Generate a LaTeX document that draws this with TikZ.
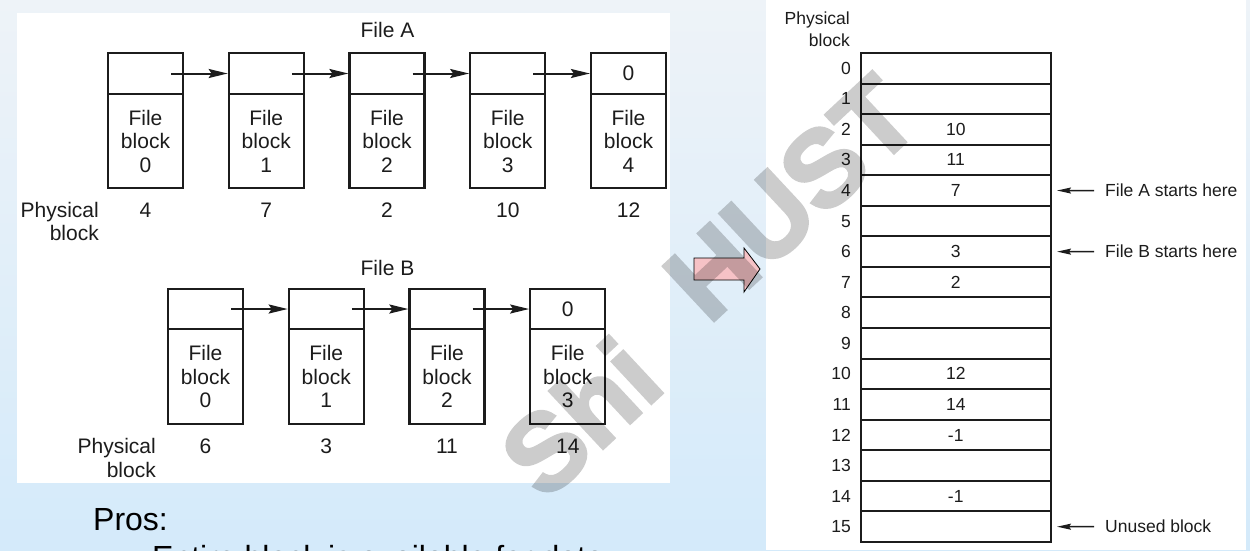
\documentclass[tikz,border=0pt]{standalone}
\usepackage{fontspec}
\setmainfont{Liberation Sans}
\newfontfamily\wmfont{Liberation Sans Bold}[FakeBold=3]
\usetikzlibrary{arrows.meta}
\definecolor{bgtop}{RGB}{238,243,248}
\definecolor{bgbot}{RGB}{212,234,250}
\definecolor{ink}{RGB}{28,28,28}
\definecolor{pinkarrow}{RGB}{246,194,198}
\begin{document}
\begin{tikzpicture}[x=1pt,y=-1pt,
  cellp/.style={draw=ink, line width=2.2pt, minimum width=75pt, inner sep=0pt,
                font=\fontsize{21}{23.5}\selectfont, text=ink},
  celld/.style={draw=ink, line width=2.2pt, minimum width=75pt, inner sep=0pt,
                align=center, font=\fontsize{21}{23.5}\selectfont, text=ink},
  lbl/.style={font=\fontsize{21}{23.5}\selectfont, text=ink, inner sep=0pt},
  rlbl/.style={font=\fontsize{17.5}{21}\selectfont, text=ink, inner sep=0pt},
  rowbox/.style={draw=ink, line width=2pt, minimum width=190.5pt, minimum height=30.56pt,
                 inner sep=0pt, font=\fontsize{17.5}{21}\selectfont, text=ink},
  ptrarrow/.style={draw=ink, line width=2pt, -{Stealth[length=19pt,width=9pt,inset=3pt]}},
  notearrow/.style={draw=ink, line width=1.5pt, -{Stealth[length=14pt,width=6pt,inset=2pt]}},
  wm/.style={font=\wmfont\fontsize{108}{108}\selectfont, text=black, inner sep=0pt}
]
\useasboundingbox (0,0) rectangle (1250,550);
% background
\shade[top color=bgtop, bottom color=bgbot] (0,0) rectangle (1250,550);
\fill[white] (17,13) rectangle (670,483);
\fill[white] (766,0) rectangle (1246,550);

% ---------- File A ----------
\node[lbl, anchor=base] (titleA) at (387.5,37) {File A};
\foreach \i/\p in {0/4,1/7,2/2,3/10,4/12}{
  \pgfmathsetmacro{\cx}{145.5+120.75*\i}
  \node[cellp, minimum height=41pt] (ap\i) at (\cx,73.5) {};
  \node[celld, minimum height=94pt] (ad\i) at (\cx,141) {File\\block\\\i};
  \node[lbl, anchor=base] (an\i) at (\cx,217) {\p};
}
\node[lbl] at (ap4) {0};
\node[lbl, anchor=base east] (aphys) at (99,217) {Physical};
\node[lbl, anchor=base east] (ablk) at (99,240) {block};
\foreach \i/\j in {0/1,1/2,2/3,3/4}{
  \draw[ptrarrow] ([xshift=-13pt]ap\i.east) -- (ap\j.west);
}

% ---------- File B ----------
\node[lbl, anchor=base] (titleB) at (387.5,275) {File B};
\foreach \i/\p in {0/6,1/3,2/11,3/14}{
  \pgfmathsetmacro{\cx}{205.5+120.75*\i}
  \node[cellp, minimum height=40pt] (bp\i) at (\cx,309) {};
  \node[celld, minimum height=95pt] (bd\i) at (\cx,376.5) {File\\block\\\i};
  \node[lbl, anchor=base] (bn\i) at (\cx,453) {\p};
}
\node[lbl] at (bp3) {0};
\node[lbl, anchor=base east] (bphys) at (156,453) {Physical};
\node[lbl, anchor=base east] (bblk) at (156,477) {block};
\foreach \i/\j in {0/1,1/2,2/3}{
  \draw[ptrarrow] ([xshift=-13pt]bp\i.east) -- (bp\j.west);
}

% ---------- Pros text ----------
\node[anchor=base west, inner sep=0pt, font=\fontsize{32}{38}\selectfont] (pros) at (93,530) {Pros:};
\node[anchor=base west, inner sep=0pt, font=\fontsize{32}{38}\selectfont] (entire) at (152,568) {Entire block is available for data};

% ---------- pink block arrow ----------
\draw[fill=pinkarrow, draw=black, line width=0.8pt]
  (694,258) -- (744,258) -- (744,248) -- (760,269) -- (744,292) -- (744,280) -- (694,280) -- cycle;

% ---------- FAT table ----------
\node[rlbl, anchor=base east] (tphys) at (850,24) {Physical};
\node[rlbl, anchor=base east] (tblk) at (850,46) {block};
\foreach \i/\v in {0/,1/,2/10,3/11,4/7,5/,6/3,7/2,8/,9/,10/12,11/14,12/-1,13/,14/-1,15/}{
  \pgfmathsetmacro{\cy}{53+30.56*(\i+0.5)}
  \node[rowbox] (r\i) at (955.75,\cy) {\v};
  \node[rlbl, anchor=east] (rl\i) at (851,\cy) {\i};
}
\node[rlbl, anchor=west] (fa) at (1105,190.5) {File A starts here};
\node[rlbl, anchor=west] (fb) at (1105,251.6) {File B starts here};
\node[rlbl, anchor=west] (ub) at (1105,526.7) {Unused block};
\draw[notearrow, shorten <=11pt, shorten >=5pt] (fa.west) -- (r4.east);
\draw[notearrow, shorten <=11pt, shorten >=5pt] (fb.west) -- (r6.east);
\draw[notearrow, shorten <=11pt, shorten >=5pt] (ub.west) -- (r15.east);

% ---------- watermark ----------
\begin{scope}[transparency group, opacity=0.2]
\node[wm, rotate=43] (wm1) at (791,198) {HUST};
\node[wm, rotate=43] (wm2) at (580,417) {Shi};
\node[wm, rotate=43] (wm3) at (440,595) {le};
\end{scope}
\end{tikzpicture}
\end{document}
